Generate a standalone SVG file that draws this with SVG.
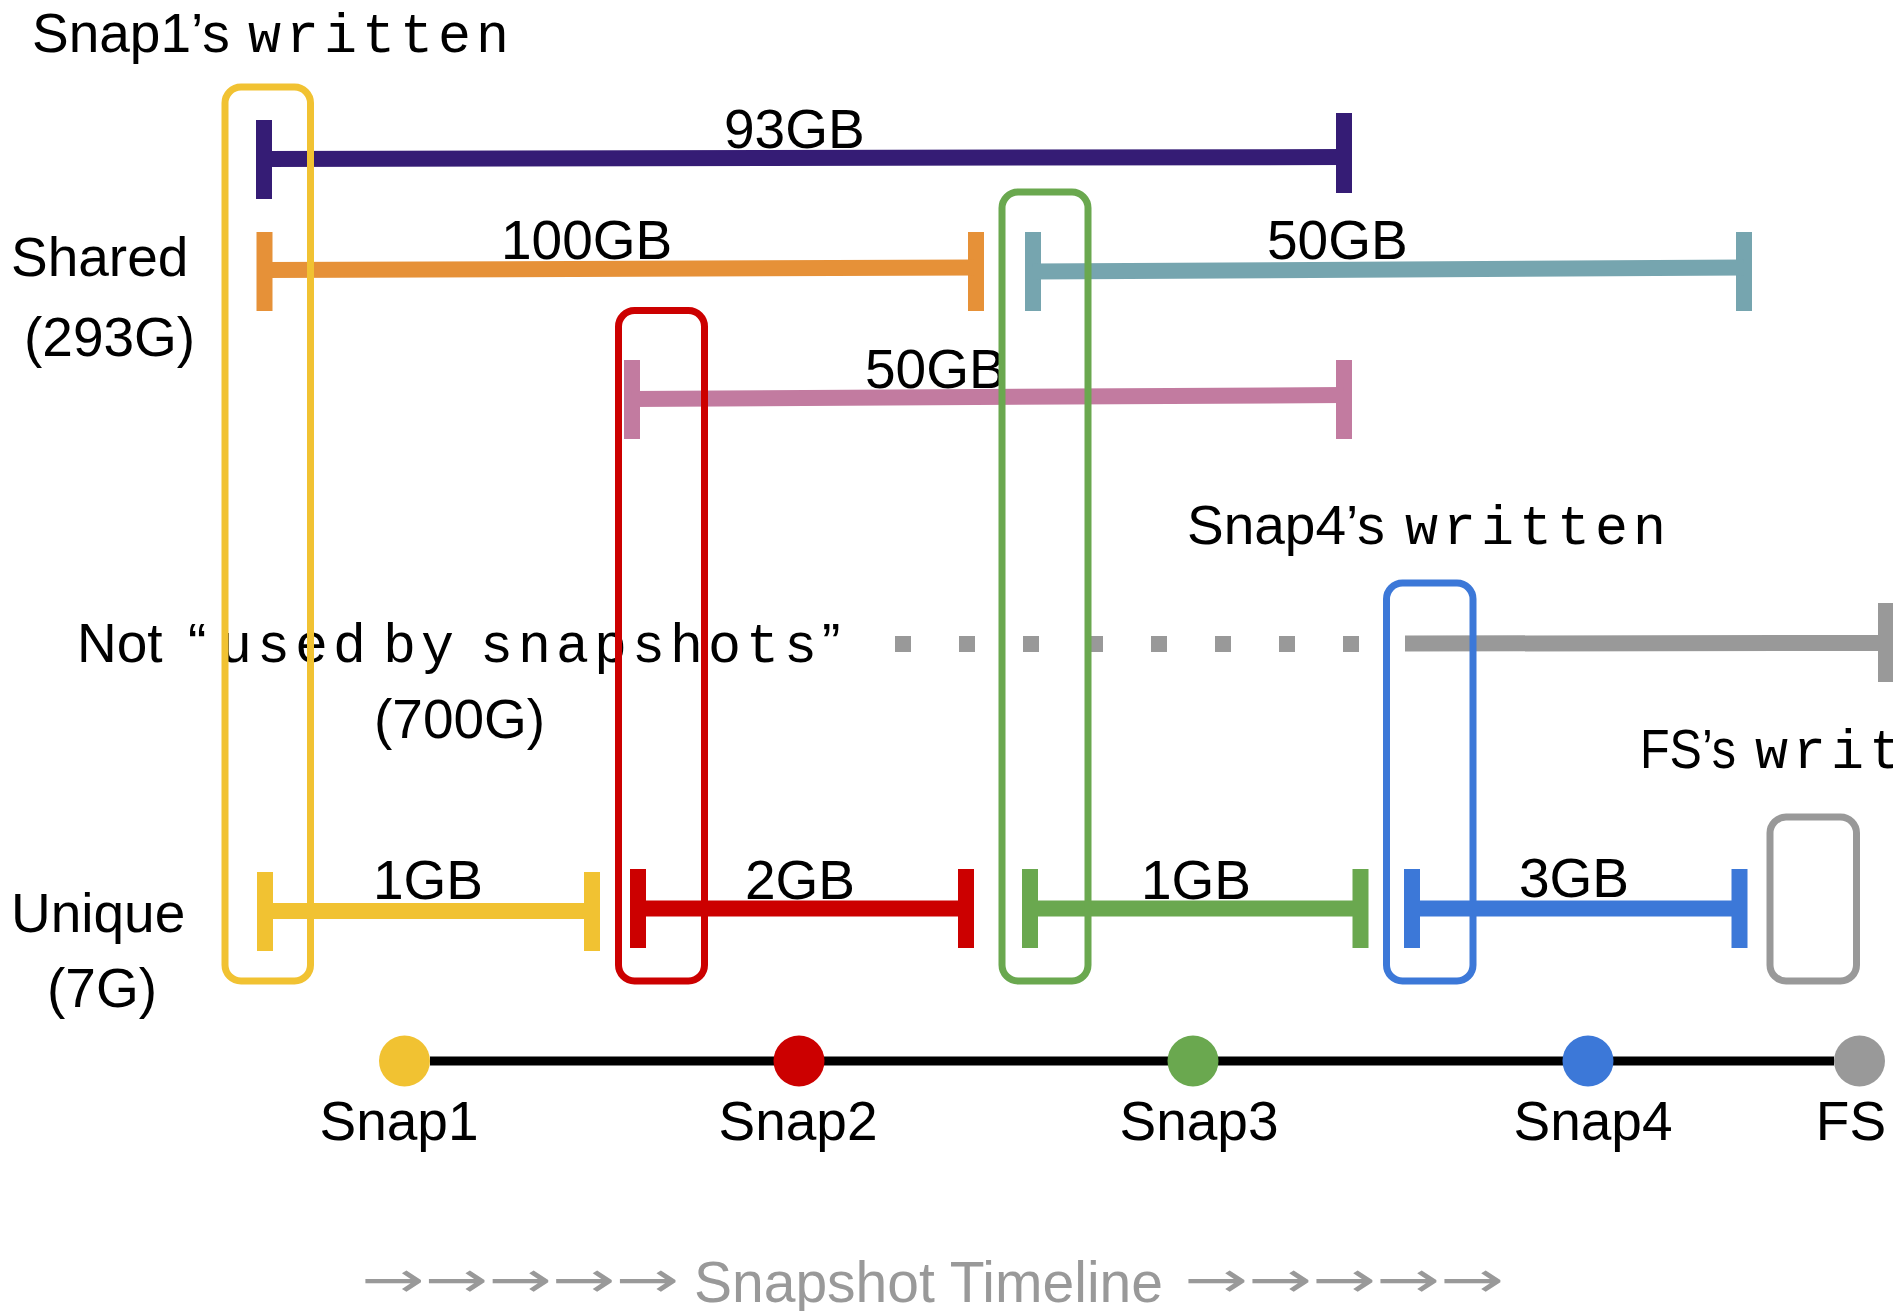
<svg xmlns="http://www.w3.org/2000/svg" width="1893" height="1311" viewBox="0 0 1893 1311">
<style>
.t{font-family:"Liberation Sans",Arial,sans-serif;font-size:55px;fill:#000}
.m{font-family:"Liberation Mono","Courier New",monospace;font-size:55px;letter-spacing:5px;fill:#000}
.g{fill:#999999}
.box{fill:none;stroke-width:7}
.bar{stroke-width:16;stroke-linecap:butt;fill:none}
</style>
<rect width="1893" height="1311" fill="#fff"/>

<g id="connectors">
  <g id="bar-93GB" fill="#351C75">
    <rect x="256" y="120" width="16" height="79"/>
    <rect x="1336" y="113" width="16" height="80"/>
    <line class="bar" x1="264" y1="159" x2="1344" y2="157" stroke="#351C75"/>
  </g>
  <g id="bar-100GB" fill="#E69138">
    <rect x="256.5" y="232" width="16" height="79"/>
    <rect x="968" y="232" width="16" height="79"/>
    <line class="bar" x1="264" y1="270" x2="976" y2="267.5" stroke="#E69138"/>
  </g>
  <g id="bar-50GB-a" fill="#76A5AF">
    <rect x="1025" y="232" width="16" height="79"/>
    <rect x="1736" y="232" width="16" height="79"/>
    <line class="bar" x1="1033" y1="271.5" x2="1744" y2="267.5" stroke="#76A5AF"/>
  </g>
  <g id="bar-50GB-b" fill="#C27BA0">
    <rect x="624" y="360" width="16" height="79"/>
    <rect x="1336" y="360" width="16" height="79"/>
    <line class="bar" x1="632" y1="399" x2="1344" y2="395" stroke="#C27BA0"/>
  </g>
  <g id="bar-not-used" fill="#999999">
    <rect x="895" y="636" width="16" height="16"/>
    <rect x="959" y="636" width="16" height="16"/>
    <rect x="1023" y="636" width="16" height="16"/>
    <rect x="1087" y="636" width="16" height="16"/>
    <rect x="1151" y="636" width="16" height="16"/>
    <rect x="1215" y="636" width="16" height="16"/>
    <rect x="1279" y="636" width="16" height="16"/>
    <rect x="1343" y="636" width="16" height="16"/>
    <line class="bar" x1="1405" y1="643.5" x2="1886" y2="643" stroke="#999999"/>
    <rect x="1878" y="603" width="16" height="79"/>
  </g>
  <g id="bar-1GB-a" fill="#F1C232">
    <rect x="257" y="872" width="16" height="79"/>
    <rect x="584" y="872" width="16" height="79"/>
    <line class="bar" x1="265" y1="911" x2="592" y2="911" stroke="#F1C232"/>
  </g>
  <g id="bar-2GB" fill="#CC0000">
    <rect x="630" y="869" width="16" height="79"/>
    <rect x="958" y="869" width="16" height="79"/>
    <line class="bar" x1="638" y1="908.5" x2="966" y2="908.5" stroke="#CC0000"/>
  </g>
  <g id="bar-1GB-b" fill="#6AA84F">
    <rect x="1022" y="869" width="16" height="79"/>
    <rect x="1352.5" y="869" width="16" height="79"/>
    <line class="bar" x1="1030" y1="908.5" x2="1360" y2="908.5" stroke="#6AA84F"/>
  </g>
  <g id="bar-3GB" fill="#3C78D8">
    <rect x="1404" y="869" width="16" height="79"/>
    <rect x="1731.5" y="869" width="16" height="79"/>
    <line class="bar" x1="1412" y1="908.5" x2="1740" y2="908.5" stroke="#3C78D8"/>
  </g>
  <line id="timeline" x1="430" y1="1061" x2="1834" y2="1061" stroke="#000" stroke-width="9"/>
</g>

<g id="labels">
  <g id="label-snap1-written"><text class="t" x="32" y="52">Snap1’s</text><text class="m" x="248" y="52">written</text></g>
  <g id="label-93GB"><text class="t" x="724" y="148">93GB</text></g>
  <g id="label-shared"><text class="t" x="11" y="276">Shared</text><text class="t" x="24" y="356">(293G)</text></g>
  <g id="label-100GB"><text class="t" x="501" y="259">100GB</text></g>
  <g id="label-50GB-a"><text class="t" x="1267" y="259">50GB</text></g>
  <g id="label-50GB-b"><text class="t" x="865" y="388">50GB</text></g>
  <g id="label-snap4-written"><text class="t" x="1187" y="544">Snap4’s</text><text class="m" x="1405" y="544">written</text></g>
  <g id="label-not-used">
    <text class="t" x="77" y="662">Not</text>
    <text class="t" x="188" y="662">“</text>
    <text class="m" x="219" y="662">used</text>
    <text class="m" x="383" y="662">by</text>
    <text class="m" x="480" y="662">snapshots</text>
    <text class="t" x="822" y="662">”</text>
    <text class="t" x="374" y="738">(700G)</text>
  </g>
  <g id="label-fs-written"><text class="t" x="1640" y="768" textLength="96" lengthAdjust="spacingAndGlyphs">FS’s</text><text class="m" x="1755" y="768">writ</text></g>
  <g id="label-1GB-a"><text class="t" x="373" y="899">1GB</text></g>
  <g id="label-2GB"><text class="t" x="745" y="899">2GB</text></g>
  <g id="label-1GB-b"><text class="t" x="1141" y="899">1GB</text></g>
  <g id="label-3GB"><text class="t" x="1519" y="897">3GB</text></g>
  <g id="label-unique"><text class="t" x="11" y="932">Unique</text><text class="t" x="47" y="1007">(7G)</text></g>
</g>

<g id="box-snap1"><rect class="box" x="225" y="87" width="85.5" height="894" rx="16" stroke="#F1C232"/></g>
<g id="box-snap2"><rect class="box" x="618.5" y="310.5" width="86" height="670.5" rx="16" stroke="#CC0000"/></g>
<g id="box-snap3"><rect class="box" x="1002" y="192" width="86" height="789" rx="16" stroke="#6AA84F"/></g>
<g id="box-snap4"><rect class="box" x="1386.5" y="583" width="86.5" height="398" rx="16" stroke="#3C78D8"/></g>
<g id="box-fs"><rect class="box" x="1770" y="817" width="86.5" height="164" rx="16" stroke="#999999"/></g>

<g id="node-snap1"><circle cx="404.5" cy="1061" r="25.5" fill="#F1C232"/><text class="t" x="399" y="1140" text-anchor="middle">Snap1</text></g>
<g id="node-snap2"><circle cx="799" cy="1061" r="25.5" fill="#CC0000"/><text class="t" x="798" y="1140" text-anchor="middle">Snap2</text></g>
<g id="node-snap3"><circle cx="1193" cy="1061" r="25.5" fill="#6AA84F"/><text class="t" x="1199" y="1140" text-anchor="middle">Snap3</text></g>
<g id="node-snap4"><circle cx="1588" cy="1061" r="25.5" fill="#3C78D8"/><text class="t" x="1593" y="1140" text-anchor="middle">Snap4</text></g>
<g id="node-fs"><circle cx="1859.5" cy="1061" r="25.5" fill="#999999"/><text class="t" x="1851" y="1140" text-anchor="middle">FS</text></g>

<g id="caption">
  <text class="t g" x="361" y="1297" textLength="318" lengthAdjust="spacingAndGlyphs" style="font-family:'DejaVu Sans','Liberation Sans',sans-serif;font-size:50px">→→→→→</text>
  <text class="t g" x="694" y="1302" style="font-size:57px">Snapshot Timeline</text>
  <text class="t g" x="1184" y="1297" textLength="320" lengthAdjust="spacingAndGlyphs" style="font-family:'DejaVu Sans','Liberation Sans',sans-serif;font-size:50px">→→→→→</text>
</g>
</svg>
